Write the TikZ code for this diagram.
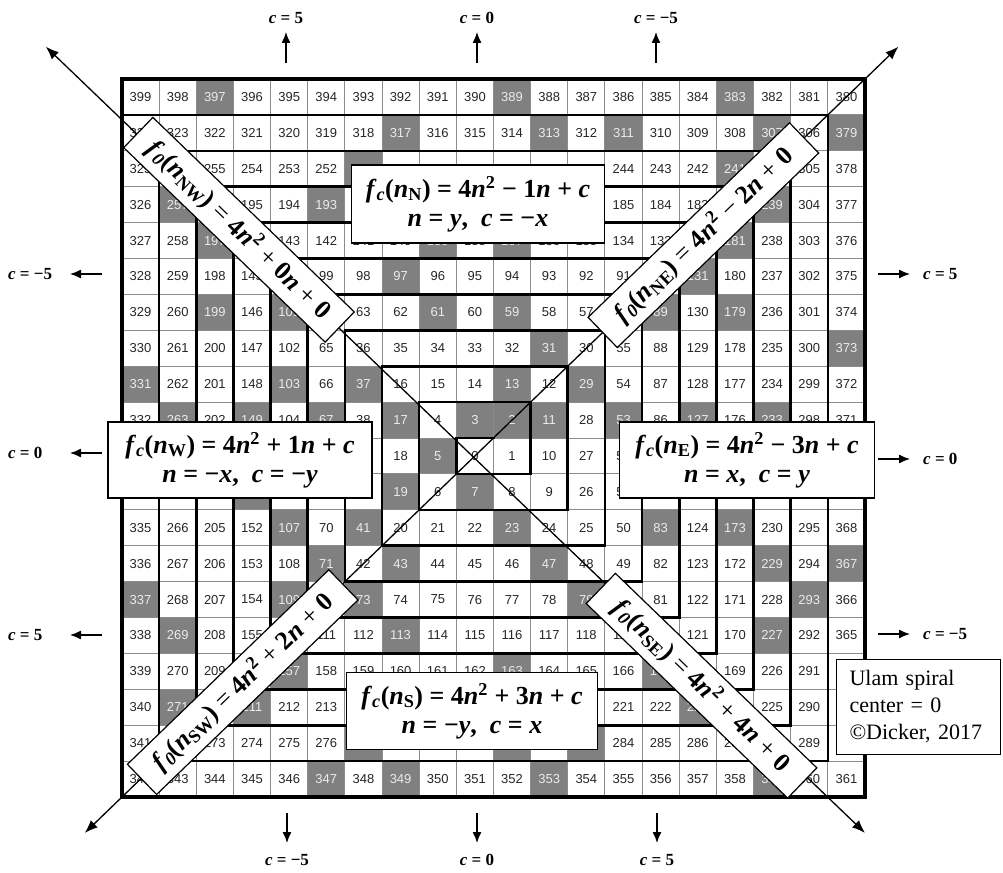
\documentclass[tikz,border=0pt]{standalone}
\usepackage{fontspec}
\setmainfont{Liberation Serif}
\newfontfamily\cellfont{Liberation Sans}
\usetikzlibrary{arrows.meta}
\definecolor{cellgray}{HTML}{808080}
\newcount\ux \newcount\uy \newcount\un
\newcommand\ulamtop{\un=\numexpr4*\uy*\uy-\uy-\ux\relax}
\newcommand\ulamleft{\un=\numexpr4*\ux*\ux-\ux-\uy\relax}
\newcommand\ulambottom{\un=\numexpr4*\uy*\uy-3*\uy+\ux\relax}
\newcommand\ulamright{\un=\numexpr(2*\ux-1)*(2*\ux-1)+\uy+\ux-1\relax}
\newcommand\ulamcalc[2]{\ux=\numexpr#1\relax \uy=\numexpr#2\relax
  \ifnum\ux>0
    \ifnum\uy>-\ux
      \ifnum\uy>\ux \ulamtop\else\ulamright\fi
    \else\ulambottom\fi
  \else
    \ifnum\uy>0
      \ifnum\uy<-\ux \ulamleft\else\ulamtop\fi
    \else
      \ifnum\uy<\ux \ulambottom\else
        \ifnum\ux<0 \ulamleft\else\ulambottom\fi
      \fi
    \fi
  \fi}
\foreach \p in {2,3,5,7,11,13,17,19,23,29,31,37,41,43,47,53,59,61,67,71,73,79,83,89,97,101,103,107,109,113,127,131,137,139,149,151,157,163,167,173,179,181,191,193,197,199,211,223,227,229,233,239,241,251,257,263,269,271,277,281,283,293,307,311,313,317,331,337,347,349,353,359,367,373,379,383,389,397}{\expandafter\gdef\csname isprime\p\endcsname{}}
\newcommand\bi[1]{\textbf{\textit{#1}}}
\newcommand\md[1]{{\mdseries #1}}
\tikzset{
 wcell/.style={inner sep=0pt, minimum width=37.15pt, minimum height=35.9pt,
   font=\cellfont\fontsize{13}{13}\selectfont, text=black!85},
 pcell/.style={wcell, fill=cellgray, text=white!92!black},
 gridthin/.style={draw=black!45, line width=0.9pt},
 wall/.style={line width=2.6pt, line cap=rect},
 border/.style={line width=3.4pt},
 diag/.style={line width=1.3pt, {Latex[length=13pt,width=10pt]}-{Latex[length=13pt,width=10pt]}},
 fbox/.style={draw, fill=white, line width=1.2pt, align=center,
   font=\bfseries\fontsize{26}{29}\selectfont, inner sep=0pt},
 dbox/.style={fbox, minimum width=280pt, minimum height=42pt},
 clab/.style={font=\bfseries\fontsize{17}{17}\selectfont, inner sep=0pt},
 carr/.style={line width=1.3pt, -{Latex[length=11pt,width=9pt]}},
 ubox/.style={draw, fill=white, line width=1pt, align=left, text width=138pt,
   inner xsep=13pt, minimum height=95pt, font=\fontsize{22}{27}\selectfont}
}
\begin{document}
\begin{tikzpicture}[x=1pt,y=-1pt]
\useasboundingbox (0,0) rectangle (1003,872);
\begin{scope}[shift={(474.9,455.95)},x=37.15pt,y=35.9pt]
 % cells
 \foreach \x in {-9,...,10}{\foreach \y in {-9,...,10}{%
   \ulamcalc{\x}{\y}\edef\nn{\the\un}%
   \ifcsname isprime\nn\endcsname\def\cst{pcell}\else\def\cst{wcell}\fi
   \node[\cst] (u\nn) at (\x,\y) {\nn};%
 }}
 % thin grid
 \foreach \i in {-9,...,10}{%
   \draw[gridthin] (\i+0.5,-9.5) -- (\i+0.5,10.5);
   \draw[gridthin] (-9.5,\i-0.5) -- (10.5,\i-0.5);
 }
 % spiral walls
 \foreach \x in {-9,...,10}{\foreach \y in {-9,...,10}{%
   \ulamcalc{\x}{\y}\edef\nn{\the\un}%
   \ifnum\x<10 \ulamcalc{\x+1}{\y}%
     \ifnum\numexpr(\un-\nn)*(\un-\nn)\relax=1 \else
       \draw[wall] (\x+0.5,\y-0.5) -- (\x+0.5,\y+0.5);\fi\fi
   \ifnum\y<10 \ulamcalc{\x}{\y+1}%
     \ifnum\numexpr(\un-\nn)*(\un-\nn)\relax=1 \else
       \draw[wall] (\x-0.5,\y+0.5) -- (\x+0.5,\y+0.5);\fi\fi
 }}
 \draw[border] (-9.5,-9.5) rectangle (10.5,10.5);
 % diagonals
 \coordinate (nwtip) at (-11.55,11.4);
 \coordinate (setip) at (10.5,-10.5);
 \coordinate (swtip) at (-10.5,-10.5);
 \coordinate (netip) at (11.4,11.4);
 \draw[diag] (nwtip) -- (setip);
 \draw[diag] (swtip) -- (netip);
 \node[dbox, rotate=-44] (bnw) at (-6.35,6.3)
   {\bi{f}\textsubscript{\bi{0}}(\bi{n}\textsubscript{NW}) \md{=} 4\bi{n}\textsuperscript{2} \md{+} 0\bi{n} \md{+} 0};
 \node[dbox, rotate=44] (bne) at (6.15,6.15)
   {\bi{f}\textsubscript{\bi{0}}(\bi{n}\textsubscript{NE}) \md{=} 4\bi{n}\textsuperscript{2} \md{−} 2\bi{n} \md{+} 0};
 \node[dbox, rotate=44] (bsw) at (-6.25,-6.3)
   {\bi{f}\textsubscript{\bi{0}}(\bi{n}\textsubscript{SW}) \md{=} 4\bi{n}\textsuperscript{2} \md{+} 2\bi{n} \md{+} 0};
 \node[dbox, rotate=-44] (bse) at (6.1,-6.4)
   {\bi{f}\textsubscript{\bi{0}}(\bi{n}\textsubscript{SE}) \md{=} 4\bi{n}\textsuperscript{2} \md{+} 4\bi{n} \md{+} 0};
\end{scope}
% direction boxes
\node[fbox, minimum width=253pt, minimum height=78pt] (bn) at (478,204)
  {\bi{f}\textsubscript{\bi{c}}(\bi{n}\textsubscript{N}) = 4\bi{n}\textsuperscript{2} − 1\bi{n} + \bi{c}\\ \bi{n} = \bi{y},\ \ \bi{c} = −\bi{x}};
\node[fbox, minimum width=264pt, minimum height=76pt] (bw) at (240,460)
  {\bi{f}\textsubscript{\bi{c}}(\bi{n}\textsubscript{W}) = 4\bi{n}\textsuperscript{2} + 1\bi{n} + \bi{c}\\ \bi{n} = −\bi{x},\ \ \bi{c} = −\bi{y}};
\node[fbox, minimum width=255pt, minimum height=76pt] (be) at (747,460)
  {\bi{f}\textsubscript{\bi{c}}(\bi{n}\textsubscript{E}) = 4\bi{n}\textsuperscript{2} − 3\bi{n} + \bi{c}\\ \bi{n} = \bi{x},\ \ \bi{c} = \bi{y}};
\node[fbox, minimum width=251pt, minimum height=77pt] (bs) at (472,711)
  {\bi{f}\textsubscript{\bi{c}}(\bi{n}\textsubscript{S}) = 4\bi{n}\textsuperscript{2} + 3\bi{n} + \bi{c}\\ \bi{n} = −\bi{y},\ \ \bi{c} = \bi{x}};
% info box
\node[ubox, anchor=north west] (info) at (836,659) {Ulam spiral\\center = 0\\©Dicker, 2017};
% top arrows
\foreach \nm/\xx/\lab in {t1/286/5, t2/477/0, t3/656/−5}{%
  \coordinate (\nm s) at (\xx,63); \coordinate (\nm e) at (\xx,32);
  \draw[carr] (\nm s) -- (\nm e);
  \node[clab] (\nm l) at (\xx,18) {\bi{c} = \lab};
}
% bottom arrows
\foreach \nm/\xx/\lab in {b1/287/−5, b2/477/0, b3/657/5}{%
  \coordinate (\nm s) at (\xx,813); \coordinate (\nm e) at (\xx,843);
  \draw[carr] (\nm s) -- (\nm e);
  \node[clab] (\nm l) at (\xx,860) {\bi{c} = \lab};
}
% left arrows
\foreach \nm/\yy/\lab in {l1/274/−5, l2/453/0, l3/635/5}{%
  \coordinate (\nm s) at (102,\yy); \coordinate (\nm e) at (70,\yy);
  \draw[carr] (\nm s) -- (\nm e);
  \node[clab, anchor=west] (\nm l) at (8,\yy) {\bi{c} = \lab};
}
% right arrows
\foreach \nm/\yy/\lab in {r1/274/5, r2/459/0, r3/634/−5}{%
  \coordinate (\nm s) at (878,\yy); \coordinate (\nm e) at (910,\yy);
  \draw[carr] (\nm s) -- (\nm e);
  \node[clab, anchor=west] (\nm l) at (923,\yy) {\bi{c} = \lab};
}
\end{tikzpicture}
\end{document}
